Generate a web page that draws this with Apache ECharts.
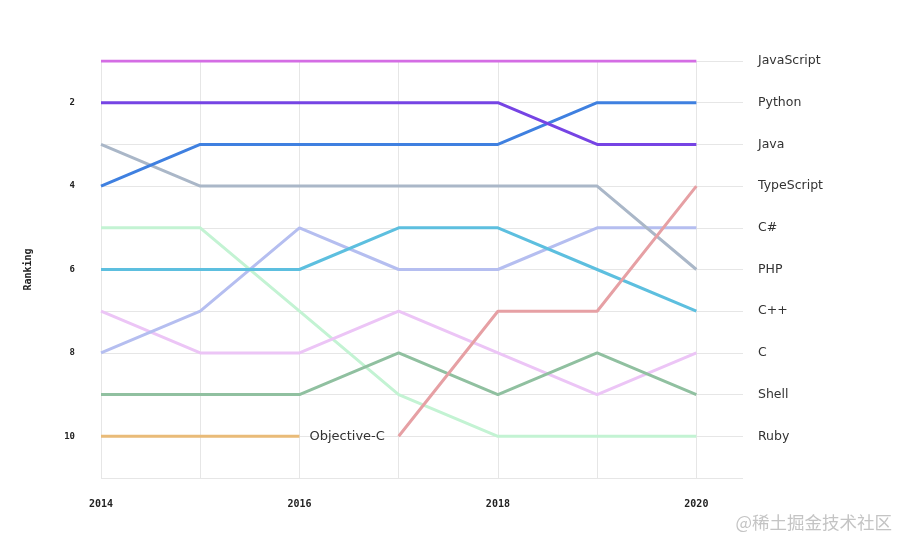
<!DOCTYPE html>
<html lang="en">
<head>
    <meta charset="UTF-8">
    <title>Language ranking</title>
    <style>
        html, body { margin: 0; padding: 0; background: #fff; }
    </style>
    <script src="https://cdn.jsdelivr.net/npm/echarts@6/dist/echarts.min.js"></script>
</head>
<body>
    <div id="main" style="width: 908px;height:548px;"></div>
    <script type="text/javascript">
        // years on the x axis
        var years = [2014, 2015, 2016, 2017, 2018, 2019, 2020];

        // ranking per year (null = not ranked)
        var javascript = [1, 1, 1, 1, 1, 1, 1];
        var python     = [2, 2, 2, 2, 2, 3, 3];
        var java       = [4, 3, 3, 3, 3, 2, 2];
        var php        = [3, 4, 4, 4, 4, 4, 6];
        var csharp     = [8, 7, 5, 6, 6, 5, 5];
        var cpp        = [6, 6, 6, 5, 5, 6, 7];
        var clang      = [7, 8, 8, 7, 8, 9, 8];
        var shell      = [9, 9, 9, 8, 9, 8, 9];
        var ruby       = [5, 5, 7, 9, 10, 10, 10];
        var objc       = [10, 10, 10, null, null, null, null];
        var typescript = [null, null, null, 10, 7, 7, 4];

        // labels on the right side, by 2020 rank
        var rankNames = ['JavaScript', 'Python', 'Java', 'TypeScript', 'C#', 'PHP', 'C++', 'C', 'Shell', 'Ruby'];
        var leftTicks = [2, 4, 6, 8, 10];
        var yearTicks = [2014, 2016, 2018, 2020];

        var lines = [
            { name: 'Ruby', data: ruby, color: '#c3f3d3' },
            { name: 'C', data: clang, color: '#ecc5f6' },
            { name: 'Shell', data: shell, color: '#90c0a0' },
            { name: 'C#', data: csharp, color: '#b5bef0' },
            { name: 'C++', data: cpp, color: '#5dbfdf' },
            { name: 'PHP', data: php, color: '#aab7c8' },
            { name: 'Objective-C', data: objc, color: '#e9bb78' },
            { name: 'TypeScript', data: typescript, color: '#e6a0a4' },
            { name: 'Java', data: java, color: '#3f80e0' },
            { name: 'Python', data: python, color: '#7644e4' },
            { name: 'JavaScript', data: javascript, color: '#d46de4' }
        ];

        function toPoints(arr) {
            var pts = [];
            for (var i = 0; i < years.length; i++) {
                if (arr[i] != null) pts.push([years[i], arr[i]]);
            }
            return pts;
        }

        var series = lines.map(function (l) {
            var s = {
                name: l.name,
                type: 'line',
                data: toPoints(l.data),
                symbol: 'none',
                lineStyle: { width: 3, color: l.color },
                itemStyle: { color: l.color },
                silent: true
            };
            if (l.name === 'Objective-C') {
                s.endLabel = {
                    show: true,
                    formatter: 'Objective-C',
                    distance: 10,
                    fontSize: 13,
                    color: '#333',
                    fontFamily: 'DejaVu Sans'
                };
            }
            return s;
        });

        var myChart = echarts.init(document.getElementById('main'));

        var option = {
            animation: false,
            backgroundColor: '#fff',
            grid: { left: 101, right: 165, top: 61, bottom: 70 },
            xAxis: {
                type: 'value',
                min: 2014,
                max: 2020.47,
                interval: 1,
                axisLine: { show: false },
                axisTick: { show: false },
                splitLine: { show: true, showMaxLine: false, lineStyle: { color: '#e6e6e6', width: 1 } },
                axisLabel: {
                    margin: 21,
                    fontSize: 10,
                    fontWeight: 'bold',
                    color: '#222',
                    fontFamily: 'DejaVu Sans Mono',
                    showMaxLabel: false,
                    formatter: function (v) {
                        return yearTicks.indexOf(v) >= 0 ? String(v) : '';
                    }
                }
            },
            yAxis: [{
                type: 'value',
                inverse: true,
                min: 1,
                max: 11,
                interval: 1,
                name: 'Ranking',
                nameLocation: 'middle',
                nameGap: 68,
                nameRotate: 90,
                nameTextStyle: { fontSize: 10, fontWeight: 'bold', color: '#222', fontFamily: 'DejaVu Sans Mono' },
                axisLine: { show: false },
                axisTick: { show: false },
                splitLine: { show: true, lineStyle: { color: '#e6e6e6', width: 1 } },
                axisLabel: {
                    margin: 26,
                    fontSize: 9,
                    fontWeight: 'bold',
                    color: '#222',
                    fontFamily: 'DejaVu Sans Mono',
                    formatter: function (v) {
                        return leftTicks.indexOf(v) >= 0 ? String(v) : '';
                    }
                }
            }, {
                type: 'value',
                position: 'right',
                inverse: true,
                min: 1,
                max: 11,
                interval: 1,
                axisLine: { show: false },
                axisTick: { show: false },
                splitLine: { show: false },
                axisLabel: {
                    margin: 15,
                    fontSize: 12.5,
                    color: '#333',
                    fontFamily: 'DejaVu Sans',
                    padding: [2, 0, 0, 0],
                    formatter: function (v) {
                        return rankNames[v - 1] || '';
                    }
                }
            }],
            graphic: [{
                type: 'text',
                right: 16,
                bottom: 17,
                style: {
                    text: '@稀土掘金技术社区',
                    fontSize: 17.5,
                    fill: '#c4c4c4',
                    fontFamily: 'Noto Sans CJK SC'
                }
            }],
            series: series
        };

        myChart.setOption(option);
    </script>
</body>
</html>
